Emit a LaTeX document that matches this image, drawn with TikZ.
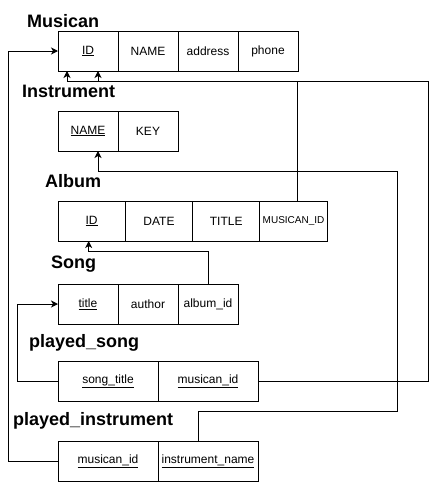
\documentclass[tikz,border=0pt]{standalone}
\usepackage{fontspec}
\setmainfont{Liberation Sans}
\usetikzlibrary{arrows.meta, positioning}

\begin{document}
\begin{tikzpicture}[
            x=1pt, y=-1pt,
            cell/.style={rectangle, draw, line width=1pt, minimum width=60pt, minimum height=40pt, inner sep=0pt, outer sep=0pt, align=center, font=\fontsize{12}{14}\selectfont},
            wide/.style={minimum width=100pt},
            alb/.style={minimum width=67.3pt},
            title/.style={anchor=base west, inner sep=0pt, font=\fontsize{18}{20}\selectfont\bfseries},
            fk/.style={draw, line width=1pt, -{Stealth[length=7pt, width=7pt, inset=2pt]}}
        ]
            \useasboundingbox (0,0) rectangle (429,482);
            \node[title] (tMusican) at (27,27) {Musican};
            \node[cell, anchor=north west] (mID) at (58,31) {\underline{ID}};
            \node[cell, right=0pt of mID] (mName) {NAME};
            \node[cell, right=0pt of mName] (mAddress) {address};
            \node[cell, right=0pt of mAddress] (mPhone) {phone};

            \node[title] (tInstrument) at (22,97) {Instrument};
            \node[cell, anchor=north west] (iName) at (58,111) {\underline{NAME}};
            \node[cell, right=0pt of iName] (iKey) {KEY};

            \node[title] (tAlbum) at (45,187) {Album};
            \node[cell, alb, anchor=north west] (aID) at (58,201) {\underline{ID}};
            \node[cell, alb, right=0pt of aID] (aDate) {DATE};
            \node[cell, alb, right=0pt of aDate] (aTitle) {TITLE};
            \node[cell, alb, right=0pt of aTitle, font=\fontsize{10}{12}\selectfont] (aMID) {MUSICAN\_ID};

            \node[title] (tSong) at (51,268) {Song};
            \node[cell, anchor=north west] (sTitle) at (58,284) {\underline{title}};
            \node[cell, right=0pt of sTitle] (sAuthor) {author};
            \node[cell, right=0pt of sAuthor] (sAID) {album\_id};

            \node[title] (tPlayedSong) at (29,347) {played\_song};
            \node[cell, wide, anchor=north west] (psTitle) at (58,361) {\underline{song\_title}};
            \node[cell, wide, right=0pt of psTitle] (psMID) {\underline{musican\_id}};

            \node[title] (tPlayedInstr) at (13,425) {played\_instrument};
            \node[cell, wide, anchor=north west] (piMID) at (58,441) {\underline{musican\_id}};
            \node[cell, wide, right=0pt of piMID] (piIN) {\underline{instrument\_name}};

            \coordinate (rightbus) at (397,171);
            \draw[fk] (piMID.west) -- ++(-50,0) |- (mID.west);
            \draw[fk] (psTitle.west) -- ++(-41,0) |- (sTitle.west);
            \draw[fk] (psMID.east) -- ++(170,0) |- ([xshift=9pt, yshift=-10pt]mID.south west) -- ([xshift=9pt]mID.south west);
            \draw[fk] ([xshift=4pt]aMID.north) |- ([xshift=10pt, yshift=-10pt]mID.south) -- ([xshift=10pt]mID.south);
            \draw[fk] ([xshift=-10pt]piIN.north) -- ++(0,-30) -| (rightbus) -| ([xshift=10pt]iName.south);
            \draw[fk] (sAID.north) |- ([xshift=-3pt, yshift=-10pt]aID.south) -- ([xshift=-3pt]aID.south);
        \end{tikzpicture}
\end{document}
